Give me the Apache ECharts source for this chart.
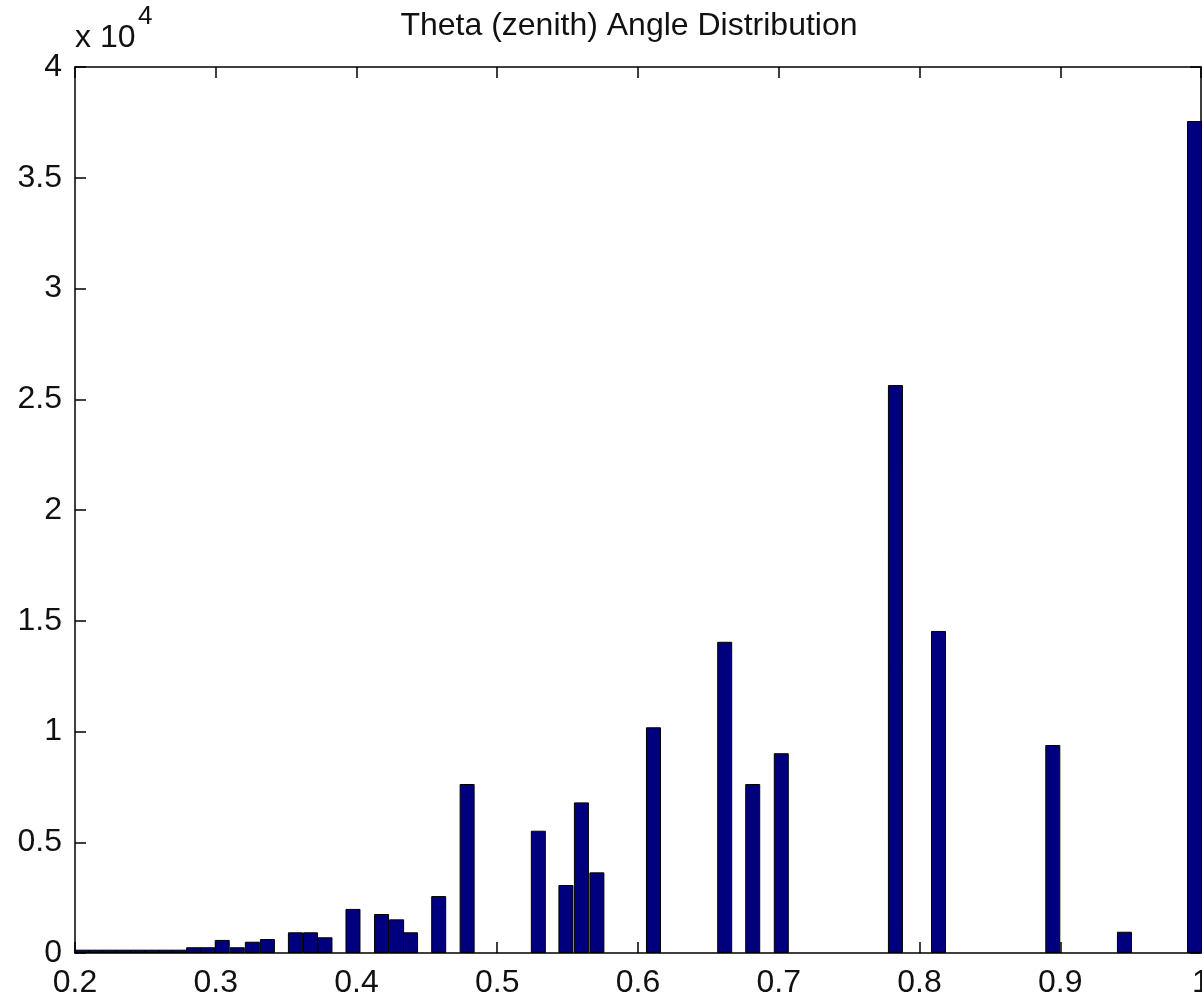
<!DOCTYPE html>
<html>
<head>
<meta charset="utf-8">
<script src="https://cdn.jsdelivr.net/npm/echarts@6/dist/echarts.min.js"></script>
<style>
html,body{margin:0;padding:0;background:#fff;overflow:hidden;}
#chart{width:1202px;height:999px;}
</style>
</head>
<body>
<div id="chart"></div>
<script>
// Histogram bin centers (theta) and counts
var binCenters = [0.2046, 0.2146, 0.2246, 0.2345, 0.2445, 0.2545, 0.2644, 0.2744,
  0.2843, 0.2943, 0.3046, 0.3153, 0.3260, 0.3367, 0.3566, 0.3673, 0.3776,
  0.3975, 0.4178, 0.4285, 0.4384, 0.4584, 0.4786, 0.5292, 0.5488, 0.5598,
  0.5708, 0.6110, 0.6616, 0.6815, 0.7018, 0.7829, 0.8135, 0.8947, 0.9456, 0.9954];
var counts = [150, 150, 150, 150, 150, 150, 150, 150,
  260, 260, 590, 260, 510, 630, 935, 935, 710,
  1990, 1760, 1520, 935, 2570, 7630, 5520, 3070, 6800,
  3640, 10190, 14050, 7630, 9020, 25640, 14540, 9390, 960, 37560];
var titleText = 'Theta (zenith) Angle Distribution';
var yScaleText = 'x 10';
var yScaleExp = '4';

var FONT = '"Liberation Sans", Arial, sans-serif';
var data = binCenters.map(function (x, i) { return [x, counts[i]]; });

var chart = echarts.init(document.getElementById('chart'));
function axisBase() {
  return {
    type: 'value',
    axisLine: { show: true, onZero: false, lineStyle: { color: '#000', width: 1.5 } },
    axisTick: { show: true, inside: true, length: 11, lineStyle: { color: '#000', width: 1.5 } },
    splitLine: { show: false }
  };
}
chart.setOption({
  animation: false,
  backgroundColor: '#fff',
  grid: { left: 75, right: 1, top: 67, bottom: 46, containLabel: false, outerBoundsMode: 'none' },
  xAxis: [
    Object.assign(axisBase(), {
      position: 'bottom', min: 0.2, max: 1, interval: 0.1,
      axisLabel: {
        show: true, color: '#111', fontFamily: FONT, fontSize: 32, margin: 14,
        showMinLabel: true, showMaxLabel: true, hideOverlap: false,
        formatter: function (v) { return Math.abs(v - 1) < 1e-9 ? '1' : v.toFixed(1); }
      }
    }),
    Object.assign(axisBase(), {
      position: 'top', min: 0.2, max: 1, interval: 0.1,
      axisLabel: { show: false }
    })
  ],
  yAxis: [
    Object.assign(axisBase(), {
      position: 'left', min: 0, max: 40000, interval: 5000,
      axisLabel: {
        show: true, color: '#111', fontFamily: FONT, fontSize: 32, margin: 13,
        showMinLabel: true, showMaxLabel: true,
        formatter: function (v) { return String(v / 10000); }
      }
    }),
    Object.assign(axisBase(), {
      position: 'right', min: 0, max: 40000, interval: 5000,
      axisLabel: { show: false }
    })
  ],
  series: [{
    type: 'bar',
    xAxisIndex: 0,
    yAxisIndex: 0,
    data: data,
    barWidth: 15,
    itemStyle: { color: '#00007f', borderColor: '#000', borderWidth: 1 }
  }],
  graphic: [
    { type: 'text', x: 629, y: 10, style: { text: titleText, fill: '#111', font: '32px ' + FONT, textAlign: 'center' } },
    { type: 'text', x: 75, y: 22, style: { text: yScaleText, fill: '#111', font: '32px ' + FONT, textAlign: 'left' } },
    { type: 'text', x: 138, y: 4, style: { text: yScaleExp, fill: '#111', font: '26px ' + FONT, textAlign: 'left' } }
  ]
});
</script>
</body>
</html>
